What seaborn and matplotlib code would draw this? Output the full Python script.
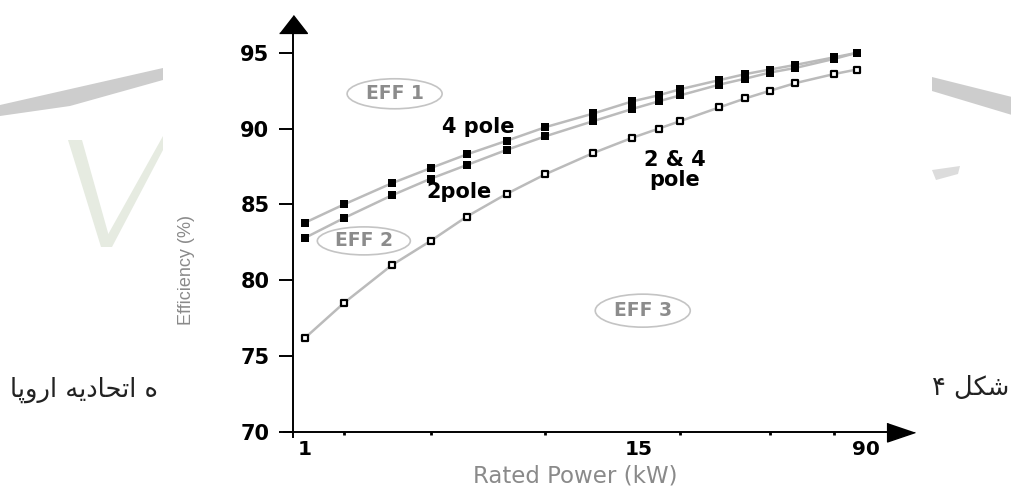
import numpy as np
import pandas as pd
import matplotlib
matplotlib.use("Agg")
import matplotlib.pyplot as plt
import seaborn as sns
from matplotlib.patches import Ellipse, Polygon
from matplotlib.ticker import NullFormatter
from matplotlib.transforms import ScaledTranslation

# ---------------- data ----------------
power_kw = [1.1, 1.5, 2.2, 3, 4, 5.5, 7.5, 11, 15, 18.5, 22, 30, 37, 45, 55, 75, 90]
eff1_4pole = [83.8, 85.0, 86.4, 87.4, 88.3, 89.2, 90.1, 91.0, 91.8, 92.2, 92.6,
              93.2, 93.6, 93.9, 94.2, 94.7, 95.0]
eff1_2pole = [82.8, 84.1, 85.6, 86.7, 87.6, 88.6, 89.5, 90.5, 91.3, 91.8, 92.2,
              92.9, 93.3, 93.7, 94.0, 94.6, 95.0]
eff2_2and4pole = [76.2, 78.5, 81.0, 82.6, 84.2, 85.7, 87.0, 88.4, 89.4, 90.0, 90.5,
                  91.4, 92.0, 92.5, 93.0, 93.6, 93.9]

series_names = ["4 pole", "2pole", "2 & 4\npole"]
class_names = ["EFF 1", "EFF 2", "EFF 3"]
y_ticks = [70, 75, 80, 85, 90, 95]
x_label_ticks = [1.1, 15, 90]
x_label_text = ["1", "15", "90"]
x_minor_ticks = [1.5, 3, 7.5, 15, 22, 45, 75]
x_title = "Rated Power (kW)"
y_title = "Efficiency (%)"
# Persian caption fragments (presentation forms, visual order)
caption_left = "\uFE8E\uFB58\uFEED\uFEAD\uFE8D \uFEEA\uFBFE\uFEA9\uFE8E\uFEA4\uFE97\uFE8D \uFEE9"   # ه اتحادیه اروپا
caption_right = "\u06F4 \uFEDE\uFB91\uFEB7"                                                   # شکل ۴

# ---------------- style ----------------
sns.set_style("white")
plt.rcParams["font.family"] = ["DejaVu Sans"]

W, H = 1012, 491
fig = plt.figure(figsize=(W / 100, H / 100), dpi=100)
fig.patch.set_facecolor("white")

def fx(x):
    return x / W

def fy(y):
    return 1 - y / H

# background watermark fragments (outside chart picture)
wm_gray = "#cdcdcd"
wm_green = "#e6ebe1"
fig.add_artist(Polygon([(fx(0), fy(105)), (fx(163), fy(68)), (fx(163), fy(80)),
                        (fx(70), fy(106)), (fx(0), fy(116))],
                       closed=True, transform=fig.transFigure, fc=wm_gray, ec="none"))
fig.add_artist(Polygon([(fx(68), fy(140)), (fx(82), fy(140)), (fx(112), fy(247)),
                        (fx(101), fy(247))],
                       closed=True, transform=fig.transFigure, fc=wm_green, ec="none"))
fig.add_artist(Polygon([(fx(101), fy(247)), (fx(112), fy(247)), (fx(163), fy(150)),
                        (fx(163), fy(136))],
                       closed=True, transform=fig.transFigure, fc=wm_green, ec="none"))
fig.add_artist(Polygon([(fx(932), fy(77)), (fx(1012), fy(97)), (fx(1012), fy(115)),
                        (fx(932), fy(91))],
                       closed=True, transform=fig.transFigure, fc=wm_gray, ec="none"))
fig.add_artist(Polygon([(fx(932), fy(170)), (fx(960), fy(166)), (fx(958), fy(174)),
                        (fx(936), fy(180))],
                       closed=True, transform=fig.transFigure, fc="#dcdcdc", ec="none"))

# Persian caption pieces
fig.text(fx(10), fy(390), caption_left, fontsize=18.5, color="#222222",
         ha="left", va="center", family=["DejaVu Sans"])
fig.text(fx(932), fy(388), caption_right, fontsize=18.5, color="#222222",
         ha="left", va="center", family=["DejaVu Sans"])

# ---------------- axes ----------------
ax = fig.add_axes([fx(293), fy(432), fx(901) - fx(293), (432 - 24) / H])
ax.set_facecolor("none")
ax.set_xscale("log")

df = pd.DataFrame({
    "power": power_kw * 3,
    "eff": eff1_4pole + eff1_2pole + eff2_2and4pole,
    "series": ["eff1_4"] * len(power_kw) + ["eff1_2"] * len(power_kw) + ["eff2"] * len(power_kw),
})
line_gray = "#bbbbbb"
sns.lineplot(data=df, x="power", y="eff", hue="series",
             palette={"eff1_4": line_gray, "eff1_2": line_gray, "eff2": line_gray},
             linewidth=1.8, legend=False, estimator=None, sort=True, ax=ax, zorder=2)

top = df[df["series"] != "eff2"]
bot = df[df["series"] == "eff2"]
sns.scatterplot(data=top, x="power", y="eff", marker="s", s=38, color="black",
                edgecolor="black", linewidth=0, legend=False, ax=ax, zorder=3)
sns.scatterplot(data=bot, x="power", y="eff", marker="s", s=18, facecolor="white",
                edgecolor="black", linewidth=1.6, legend=False, ax=ax, zorder=3)

ax.set_xlim(1, 128)
ax.set_ylim(70, 96.9)

# spines
sns.despine(ax=ax, top=True, right=True)
for side in ("left", "bottom"):
    ax.spines[side].set_color("black")
    ax.spines[side].set_linewidth(1.4)
ax.spines["bottom"].set_bounds(0.93, 128)
ax.spines["left"].set_bounds(69.67, 96.9)

# arrow heads at axis ends
up_arrow = [(-1.4, -0.9), (1.4, -0.9), (0, 0.9)]
right_arrow = [(-1.4, 0.95), (-1.4, -0.95), (1.4, 0)]
ax.plot([0], [1], marker=up_arrow, markersize=20, color="black",
        transform=ax.transAxes, clip_on=False, linestyle="none")
ax.plot([1], [0], marker=right_arrow, markersize=20, color="black",
        transform=ax.transAxes, clip_on=False, linestyle="none")

# y ticks
ax.set_yticks(y_ticks)
ax.set_yticklabels([str(v) for v in y_ticks], fontsize=15, fontweight="bold", color="black")
ax.tick_params(axis="y", direction="out", length=10, width=1.4, pad=7, colors="black", left=True)

# x ticks
ax.set_xticks(x_label_ticks)
ax.set_xticklabels(x_label_text, fontsize=14.5, fontweight="bold", color="black")
ax.set_xticks(x_minor_ticks, minor=True)
ax.xaxis.set_minor_formatter(NullFormatter())
ax.tick_params(axis="x", which="major", length=0, pad=6, bottom=True)
ax.tick_params(axis="x", which="minor", length=2.5, width=2, direction="out",
               colors="black", bottom=True)
for lbl, dx in zip(ax.get_xticklabels(), [0, 6, 9]):
    lbl.set_transform(lbl.get_transform() + ScaledTranslation(dx / 100, 0, fig.dpi_scale_trans))

# axis titles
ax.set_xlabel(x_title, fontsize=16.5, color="#8a8a8a")
ax.xaxis.set_label_coords((575 - 293) / 608, (432 - 476) / 408)
ax.xaxis.label.set_va("center")
ax.set_ylabel(y_title, fontsize=13, color="#8a8a8a", family=["Liberation Sans", "DejaVu Sans"])
ax.yaxis.set_label_coords((187 - 293) / 608, (432 - 270) / 408)
ax.yaxis.label.set_va("center")

# curve labels
ax.text(4.4, 90.1, series_names[0], fontsize=15, fontweight="bold", color="black",
        ha="center", va="center")
ax.text(3.75, 85.8, series_names[1], fontsize=15, fontweight="bold", color="black",
        ha="center", va="center")
ax.text(21.0, 87.3, series_names[2], fontsize=15, fontweight="bold", color="black",
        ha="center", va="center", linespacing=1.0)

# class labels in ellipses
class_pos = [(2.25, 92.3), (1.76, 82.6), (16.3, 78.0)]
ell_size = [(0.95, 0.30), (0.93, 0.28), (0.95, 0.33)]
for name, (xd, yd), (ew, eh) in zip(class_names, class_pos, ell_size):
    tr = fig.dpi_scale_trans + ScaledTranslation(xd, yd, ax.transData)
    ax.add_artist(Ellipse((0, 0), ew, eh, transform=tr, fill=False,
                          edgecolor="#c4c4c4", linewidth=1.2, clip_on=False))
    ax.text(xd, yd, name, fontsize=13.5, fontweight="bold", color="#8c8c8c",
            ha="center", va="center")

fig.savefig("out.png", dpi=100, facecolor="white")
